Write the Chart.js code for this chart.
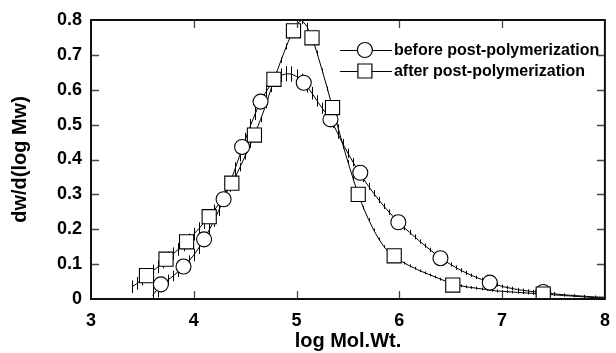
<!DOCTYPE html>
<html><head><meta charset="utf-8">
<script src="https://cdn.jsdelivr.net/npm/chart.js@4.4.0/dist/chart.umd.min.js"></script>
<style>html,body{margin:0;padding:0;background:#fff}canvas{display:block}</style>
</head><body>
<canvas id="c" width="616" height="353"></canvas>
<script>
// ---- data ----
const seriesNames = ['before post-polymerization', 'after post-polymerization'];
const xTicks = [3, 4, 5, 6, 7, 8];
const yTicks = [0, 0.1, 0.2, 0.3, 0.4, 0.5, 0.6, 0.7, 0.8];

// continuous curve "before"
const beforeX = [
  3.60,3.65,3.70,3.75,3.80,3.85,3.90,3.95,4.00,4.05,
  4.10,4.15,4.20,4.25,4.30,4.35,4.40,4.45,4.50,4.55,
  4.60,4.65,4.70,4.75,4.80,4.85,4.90,4.95,5.00,5.05,
  5.10,5.15,5.20,5.25,5.30,5.35,5.40,5.45,5.50,5.55,
  5.60,5.65,5.70,5.75,5.80,5.85,5.90,5.95,6.00,6.05,
  6.10,6.15,6.20,6.25,6.30,6.35,6.40,6.45,6.50,6.55,
  6.60,6.65,6.70,6.75,6.80,6.85,6.90,6.95,7.00,7.05,
  7.10,7.15,7.20,7.25,7.30,7.35,7.40,7.45,7.50,7.60,
  7.70,7.80,7.90,8.00];
const beforeY = [
  0.010,0.030,0.045,0.055,0.066,0.079,0.093,0.108,0.126,0.147,
  0.171,0.198,0.227,0.258,0.293,0.330,0.372,0.414,0.456,0.496,
  0.533,0.566,0.593,0.615,0.630,0.641,0.646,0.645,0.638,0.626,
  0.610,0.590,0.568,0.547,0.527,0.505,0.475,0.445,0.418,0.392,
  0.368,0.345,0.323,0.303,0.284,0.266,0.249,0.233,0.218,0.204,
  0.191,0.178,0.165,0.153,0.141,0.129,0.118,0.108,0.099,0.090,
  0.082,0.075,0.068,0.062,0.056,0.050,0.045,0.041,0.036,0.033,
  0.030,0.027,0.025,0.023,0.021,0.020,0.019,0.017,0.015,0.012,
  0.010,0.008,0.006,0.005];
const beforeErr = [
  0.030,0.025,0.018,0.015,0.015,0.016,0.016,0.017,0.018,0.018,
  0.018,0.018,0.020,0.020,0.020,0.020,0.020,0.020,0.020,0.020,
  0.020,0.020,0.020,0.020,0.020,0.020,0.022,0.022,0.020,0.020,
  0.018,0.018,0.016,0.016,0.015,0.015,0.015,0.014,0.013,0.012,
  0.011,0.010,0.010,0.009,0.009,0.008,0.008,0.008,0.007,0.007,
  0.007,0.007,0.006,0.006,0.006,0.006,0.006,0.006,0.006,0.006,
  0.006,0.006,0.005,0.005,0.005,0.005,0.005,0.005,0.005,0.005,
  0.005,0.005,0.005,0.005,0.005,0.005,0.005,0.005,0.005,0.004,
  0.004,0.004,0.004,0.004];

// continuous curve "after"
const afterX = [
  3.40,3.45,3.50,3.55,3.60,3.65,3.70,3.75,3.80,3.85,
  3.90,3.95,4.00,4.05,4.10,4.15,4.20,4.25,4.30,4.35,
  4.40,4.45,4.50,4.55,4.60,4.65,4.70,4.75,4.80,4.85,
  4.90,4.95,5.00,5.05,5.10,5.15,5.20,5.25,5.30,5.35,
  5.40,5.45,5.50,5.55,5.60,5.65,5.70,5.75,5.80,5.85,
  5.90,5.95,6.00,6.05,6.10,6.15,6.20,6.25,6.30,6.35,
  6.40,6.45,6.50,6.55,6.60,6.65,6.70,6.75,6.80,6.85,
  6.90,6.95,7.00,7.05,7.10,7.15,7.20,7.25,7.30,7.35,
  7.40,7.45,7.50,7.60,7.70,7.80,7.90,8.00];
const afterY = [
  0.035,0.045,0.057,0.069,0.080,0.092,0.106,0.118,0.130,0.142,
  0.155,0.170,0.186,0.202,0.219,0.236,0.255,0.275,0.297,0.322,
  0.348,0.378,0.410,0.443,0.478,0.515,0.555,0.601,0.645,0.685,
  0.724,0.760,0.788,0.800,0.782,0.750,0.705,0.655,0.603,0.549,
  0.495,0.443,0.393,0.345,0.300,0.262,0.228,0.198,0.172,0.150,
  0.134,0.122,0.112,0.103,0.095,0.088,0.081,0.075,0.069,0.063,
  0.057,0.051,0.045,0.041,0.038,0.035,0.033,0.031,0.029,0.027,
  0.025,0.023,0.022,0.021,0.020,0.019,0.018,0.017,0.016,0.015,
  0.014,0.013,0.012,0.010,0.008,0.006,0.004,0.003];
const afterErr = [
  0.018,0.018,0.018,0.018,0.018,0.018,0.018,0.018,0.018,0.018,
  0.018,0.018,0.018,0.018,0.018,0.016,0.016,0.016,0.015,0.015,
  0.014,0.012,0.010,0.010,0.009,0.008,0.008,0.008,0.008,0.008,
  0.008,0.008,0.010,0.012,0.010,0.008,0.007,0.006,0.006,0.006,
  0.006,0.005,0.005,0.005,0.005,0.005,0.004,0.004,0.004,0.004,
  0.004,0.004,0.004,0.004,0.004,0.004,0.004,0.004,0.004,0.004,
  0.004,0.004,0.004,0.004,0.004,0.004,0.004,0.004,0.004,0.004,
  0.004,0.004,0.004,0.004,0.004,0.004,0.004,0.004,0.004,0.004,
  0.004,0.004,0.004,0.003,0.003,0.003,0.003,0.003];

// symbol markers
const beforeMarkX = [3.68,3.90,4.10,4.29,4.47,4.65,5.07,5.33,5.62,5.99,6.40,6.88,7.40];
const beforeMarkY = [0.042,0.093,0.171,0.286,0.436,0.566,0.620,0.515,0.362,0.220,0.117,0.047,0.020];
const afterMarkX = [3.54,3.73,3.93,4.15,4.37,4.59,4.78,4.97,5.15,5.35,5.60,5.95,6.52,7.40];
const afterMarkY = [0.067,0.114,0.164,0.236,0.332,0.470,0.630,0.769,0.749,0.549,0.300,0.124,0.040,0.014];

// ---- chart ----
const FONT = "'Liberation Sans', Arial, Helvetica, sans-serif";
const pts = (xs, ys) => xs.map((x, i) => ({x: x, y: ys[i]}));

const errorBars = {
  id: 'errorBars',
  beforeDatasetsDraw(chart) {
    const ctx = chart.ctx, a = chart.chartArea, ys = chart.scales.y;
    ctx.save();
    ctx.beginPath(); ctx.rect(a.left, a.top, a.right - a.left, a.bottom - a.top); ctx.clip();
    ctx.strokeStyle = '#000'; ctx.lineWidth = 1;
    chart.data.datasets.forEach((ds, di) => {
      if (!ds.errors) return;
      const meta = chart.getDatasetMeta(di);
      meta.data.forEach((el, i) => {
        const v = ds.data[i].y, e = ds.errors[i];
        const x = Math.round(el.x) + 0.5;
        ctx.beginPath();
        ctx.moveTo(x, ys.getPixelForValue(v - e));
        ctx.lineTo(x, ys.getPixelForValue(v + e));
        ctx.stroke();
      });
    });
    ctx.restore();
  }
};

const frame = {
  id: 'frame',
  afterDatasetsDraw(chart) {
    const ctx = chart.ctx, a = chart.chartArea, xs = chart.scales.x, ys = chart.scales.y;
    ctx.save();
    ctx.strokeStyle = '#444'; ctx.lineWidth = 1.3;
    const L = 8;
    xs.ticks.forEach((t, i) => {
      const px = Math.round(xs.getPixelForTick(i)) + 0.5;
      if (px < a.left + 2 || px > a.right - 2) return;
      ctx.beginPath();
      ctx.moveTo(px, a.bottom); ctx.lineTo(px, a.bottom - L);
      ctx.moveTo(px, a.top); ctx.lineTo(px, a.top + L);
      ctx.stroke();
    });
    ys.ticks.forEach((t, i) => {
      const py = Math.round(ys.getPixelForTick(i)) + 0.5;
      if (py < a.top + 2 || py > a.bottom - 2) return;
      ctx.beginPath();
      ctx.moveTo(a.left, py); ctx.lineTo(a.left + L, py);
      ctx.moveTo(a.right, py); ctx.lineTo(a.right - L, py);
      ctx.stroke();
    });
    ctx.strokeStyle = '#111'; ctx.lineWidth = 2;
    ctx.strokeRect(a.left, a.top, a.right - a.left, a.bottom - a.top);
    ctx.restore();
  }
};

const legendDraw = {
  id: 'legendDraw',
  afterDraw(chart) {
    const ctx = chart.ctx, a = chart.chartArea;
    const x0 = a.right - 265, x1 = a.right - 213, mx = a.right - 240, tx = a.right - 211;
    const rows = [a.top + 30, a.top + 51];
    const styles = ['circle', 'rect'];
    ctx.save();
    rows.forEach((y, i) => {
      ctx.strokeStyle = '#000'; ctx.lineWidth = 1;
      ctx.beginPath(); ctx.moveTo(x0, y + 0.5); ctx.lineTo(x1, y + 0.5); ctx.stroke();
      ctx.fillStyle = '#fff'; ctx.lineWidth = 1.2;
      ctx.beginPath();
      if (styles[i] === 'circle') ctx.arc(mx, y, 7.5, 0, Math.PI * 2);
      else ctx.rect(mx - 7, y - 7, 14, 14);
      ctx.fill(); ctx.stroke();
      ctx.fillStyle = '#000';
      ctx.font = 'bold 16px ' + FONT;
      ctx.textBaseline = 'middle'; ctx.textAlign = 'left';
      ctx.fillText(seriesNames[i], tx, y + 1);
    });
    ctx.restore();
  }
};

new Chart(document.getElementById('c'), {
  type: 'scatter',
  data: {
    datasets: [
      { label: seriesNames[1] + ' markers', data: pts(afterMarkX, afterMarkY), order: 0,
        showLine: false, pointStyle: 'rect', pointRadius: 10, pointBackgroundColor: '#fff',
        pointBorderColor: '#000', pointBorderWidth: 1.1 },
      { label: seriesNames[0] + ' markers', data: pts(beforeMarkX, beforeMarkY), order: 1,
        showLine: false, pointStyle: 'circle', pointRadius: 7.5, pointBackgroundColor: '#fff',
        pointBorderColor: '#000', pointBorderWidth: 1.1 },
      { label: seriesNames[0], data: pts(beforeX, beforeY), errors: beforeErr, order: 2,
        showLine: true, borderColor: '#000', borderWidth: 1, pointRadius: 0, tension: 0 },
      { label: seriesNames[1], data: pts(afterX, afterY), errors: afterErr, order: 3,
        showLine: true, borderColor: '#000', borderWidth: 1, pointRadius: 0, tension: 0 }
    ]
  },
  options: {
    responsive: false, devicePixelRatio: 1, animation: false,
    layout: { padding: { top: 20, right: 6, left: 0, bottom: 0 } },
    plugins: { legend: { display: false }, tooltip: { enabled: false } },
    scales: {
      x: {
        type: 'linear', min: xTicks[0], max: xTicks[xTicks.length - 1],
        afterBuildTicks: s => { s.ticks = xTicks.map(v => ({value: v})); },
        afterFit: s => { s.height = 54; s.paddingLeft = 0; s.paddingRight = 0; },
        grid: { display: false, drawTicks: false }, border: { display: false },
        ticks: { padding: 11, color: '#000', font: { family: FONT, size: 18, weight: 'bold' },
                 callback: v => String(v) },
        title: { display: true, text: 'log Mol.Wt.', color: '#000',
                 font: { family: FONT, size: 20, weight: 'bold' }, padding: { top: 0, bottom: 0 } }
      },
      y: {
        type: 'linear', min: yTicks[0], max: yTicks[yTicks.length - 1],
        afterBuildTicks: s => { s.ticks = yTicks.map(v => ({value: v})); },
        afterFit: s => { s.width = 91; s.paddingTop = 0; s.paddingBottom = 0; },
        grid: { display: false, drawTicks: false }, border: { display: false },
        ticks: { padding: 9, color: '#000', font: { family: FONT, size: 18, weight: 'bold' },
                 callback: v => (v === 0 ? '0' : Number(v).toFixed(1)) },
        title: { display: true, text: 'dw/d(log Mw)', color: '#000',
                 font: { family: FONT, size: 20, weight: 'bold' }, padding: { top: 8, bottom: 0 } }
      }
    }
  },
  plugins: [errorBars, frame, legendDraw]
});
</script>
</body></html>
